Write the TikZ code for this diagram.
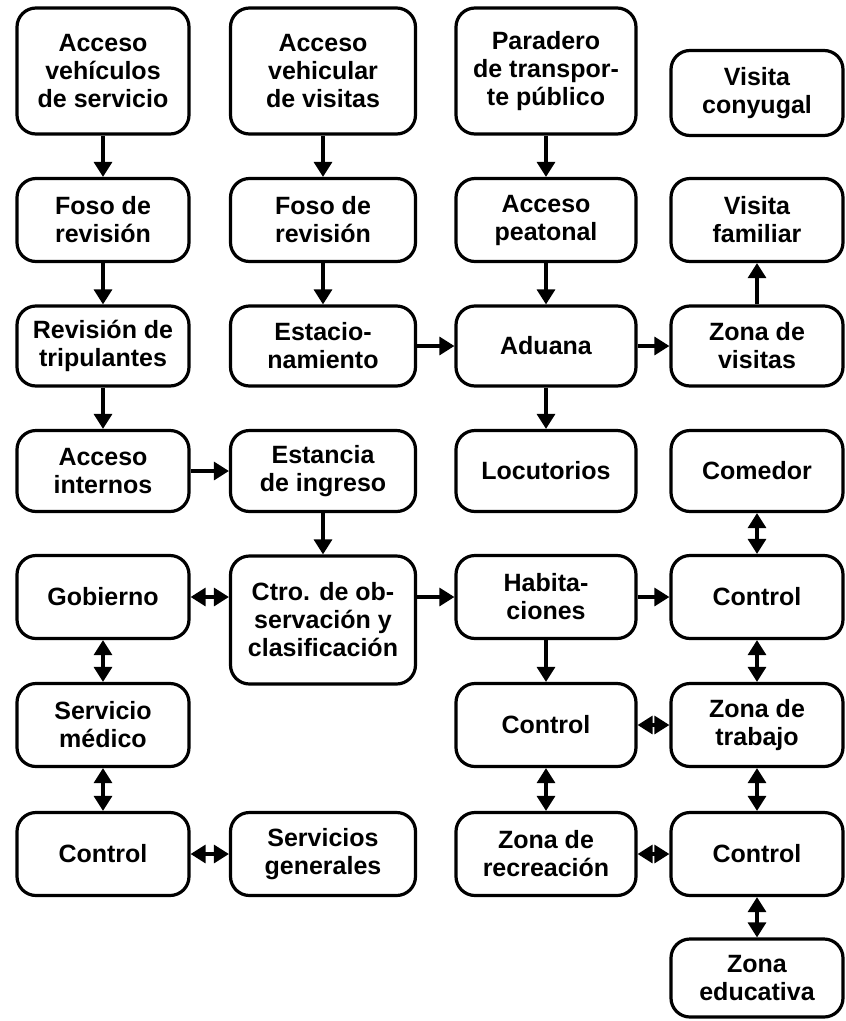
\documentclass[tikz,border=0pt]{standalone}
\usepackage{fontspec}
\setmainfont{Liberation Sans}
\usetikzlibrary{arrows.meta}

\begin{document}
\begin{tikzpicture}[
    x=1pt, y=-1pt,
    >={Triangle[length=15pt, width=18pt]},
    every node/.style={font=\bfseries\fontsize{25}{28}\selectfont},
    box/.style={draw, line width=3.2pt, rounded corners=19pt, align=center, inner sep=0pt},
    link/.style={line width=3.2pt},
]
\useasboundingbox (0,0) rectangle (846,1021);
% column 1
\node[box, minimum width=172pt, minimum height=126pt] (accserv) at (103,71) {Acceso\\vehículos\\de servicio};
\node[box, minimum width=172pt, minimum height=83pt] (fosoA) at (103,220) {Foso de\\revisión};
\node[box, minimum width=172pt, minimum height=80pt] (revtrip) at (103,346) {Revisión de\\tripulantes};
\node[box, minimum width=172pt, minimum height=81pt] (accint) at (103,471) {Acceso\\internos};
\node[box, minimum width=172pt, minimum height=83pt] (gob) at (103,597) {Gobierno};
\node[box, minimum width=172pt, minimum height=83pt] (servmed) at (103,725) {Servicio\\médico};
\node[box, minimum width=172pt, minimum height=83pt] (ctrlA) at (103,854) {Control};
% column 2
\node[box, minimum width=185pt, minimum height=126pt] (accvis) at (323,71) {Acceso\\vehicular\\de visitas};
\node[box, minimum width=185pt, minimum height=83pt] (fosoB) at (323,220) {Foso de\\revisión};
\node[box, minimum width=185pt, minimum height=80pt] (estac) at (323,346) {Estacio-\\namiento};
\node[box, minimum width=185pt, minimum height=81pt] (estan) at (323,471) {Estancia\\de ingreso};
\node[box, minimum width=185pt, minimum height=128pt] (ctro) at (323,620) {Ctro. de ob-\\servación y\\clasificación};
\node[box, minimum width=185pt, minimum height=83pt] (servgen) at (323,854) {Servicios\\generales};
% column 3
\node[box, minimum width=180pt, minimum height=126pt] (parad) at (546,71) {Paradero\\de transpor-\\te público};
\node[box, minimum width=180pt, minimum height=83pt] (accpeat) at (546,220) {Acceso\\peatonal};
\node[box, minimum width=180pt, minimum height=80pt] (aduana) at (546,346) {Aduana};
\node[box, minimum width=180pt, minimum height=81pt] (locut) at (546,471) {Locutorios};
\node[box, minimum width=180pt, minimum height=83pt] (habit) at (546,597) {Habita-\\ciones};
\node[box, minimum width=180pt, minimum height=83pt] (ctrlB) at (546,725) {Control};
\node[box, minimum width=180pt, minimum height=83pt] (zrec) at (546,854) {Zona de\\recreación};
% column 4
\node[box, minimum width=172pt, minimum height=85pt] (viscony) at (757,93) {Visita\\conyugal};
\node[box, minimum width=172pt, minimum height=83pt] (visfam) at (757,220) {Visita\\familiar};
\node[box, minimum width=172pt, minimum height=80pt] (zvis) at (757,346) {Zona de\\visitas};
\node[box, minimum width=172pt, minimum height=81pt] (comed) at (757,471) {Comedor};
\node[box, minimum width=172pt, minimum height=83pt] (ctrlC) at (757,597) {Control};
\node[box, minimum width=172pt, minimum height=83pt] (ztrab) at (757,725) {Zona de\\trabajo};
\node[box, minimum width=172pt, minimum height=83pt] (ctrlD) at (757,854) {Control};
\node[box, minimum width=172pt, minimum height=78pt] (zedu) at (757,978) {Zona\\educativa};
% entrance flows
\draw[link,->] (accserv) -- (fosoA);
\draw[link,->] (fosoA) -- (revtrip);
\draw[link,->] (revtrip) -- (accint);
\draw[link,->] (accint) -- (estan);
\draw[link,->] (accvis) -- (fosoB);
\draw[link,->] (fosoB) -- (estac);
\draw[link,->] (estac) -- (aduana);
\draw[link,->] (parad) -- (accpeat);
\draw[link,->] (accpeat) -- (aduana);
\draw[link,->] (aduana) -- (zvis);
\draw[link,->] (aduana) -- (locut);
\draw[link,->] (zvis) -- (visfam);
\draw[link,->] (estan) -- (ctro);
\draw[link,->] (ctro.east |- habit) -- (habit.west);
\draw[link,->] (habit) -- (ctrlC);
\draw[link,->] (habit) -- (ctrlB);
% two-way links
\draw[link,<->] (gob.east) -- (gob.east -| ctro.west);
\draw[link,<->] (gob) -- (servmed);
\draw[link,<->] (servmed) -- (ctrlA);
\draw[link,<->] (ctrlA) -- (servgen);
\draw[link,<->] (comed) -- (ctrlC);
\draw[link,<->] (ctrlC) -- (ztrab);
\draw[link,<->] (ctrlB) -- (ztrab);
\draw[link,<->] (ctrlB) -- (zrec);
\draw[link,<->] (zrec) -- (ctrlD);
\draw[link,<->] (ztrab) -- (ctrlD);
\draw[link,<->] (ctrlD) -- (zedu);
\end{tikzpicture}
\end{document}
